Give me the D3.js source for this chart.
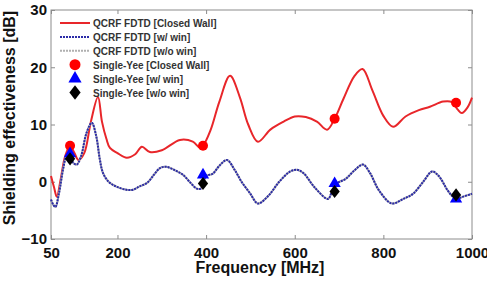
<!DOCTYPE html>
<html>
<head>
<meta charset="utf-8">
<script src="https://cdn.jsdelivr.net/npm/d3@7"></script>
<style>
  body { margin: 0; background: #fff; }
  text { font-family: "Liberation Sans", Arial, sans-serif; font-weight: bold; }
</style>
</head>
<body>
<div id="chart"></div>
<script>
// QCRF FDTD curves (frequency MHz, SE dB)
const closedFreq = [50, 57, 63, 72, 82, 93, 103, 112, 125, 140, 156, 165, 175, 183, 200, 221, 240, 255, 273, 300, 341, 370, 385, 393, 410, 430, 454, 476, 495, 517, 545, 575, 600, 625, 650, 673, 690, 710, 735, 753, 775, 800, 822, 850, 880, 905, 935, 955, 968, 977, 990, 1000]
const closedSE   = [1.0, -1.0, -2.6, 0.5, 4.5, 6.2, 5.0, 3.8, 5.0, 10.5, 14.8, 10.5, 7.5, 5.9, 5.0, 4.2, 4.8, 6.1, 5.2, 5.5, 7.3, 7.0, 6.0, 6.3, 9.0, 14.0, 18.5, 14.8, 10.0, 7.0, 9.1, 10.5, 11.4, 11.3, 10.5, 9.1, 11.0, 14.5, 18.5, 19.7, 16.0, 11.5, 9.6, 11.4, 12.5, 13.1, 14.0, 13.9, 12.6, 12.0, 13.0, 14.7]

const winFreq = [50, 55, 60, 68, 78, 86, 93, 100, 108, 118, 130, 142, 152, 160, 167, 180, 199, 220, 235, 250, 267, 282, 296, 310, 330, 348, 365, 379, 388, 400, 415, 430, 447, 465, 480, 499, 517, 540, 565, 590, 605, 620, 645, 675, 685, 695, 715, 735, 754, 770, 790, 819, 845, 867, 890, 910, 925, 945, 957, 968, 980, 1000]
const winSE   = [-3.1, -4.0, -4.4, -2.0, 2.5, 4.7, 4.6, 3.3, 3.0, 4.5, 8.5, 10.3, 8.0, 4.0, 1.6, 0.0, -0.9, -1.4, -1.4, -0.8, -0.2, 1.2, 2.4, 2.6, 2.0, 1.2, -0.2, -1.2, -1.2, 1.0, 1.4, 2.8, 3.8, 2.0, 0.0, -2.0, -3.8, -2.5, 0.0, 1.8, 2.1, 1.5, -1.0, -3.0, -1.5, -0.3, 0.5, 2.0, 3.0, 1.5, -1.5, -3.8, -3.0, -2.1, 0.0, 1.8, 1.0, -1.5, -2.6, -2.9, -2.6, -2.1]

// w/o win curve lies under the w/ win curve
const noWinFreq = winFreq
const noWinSE = winSE

// Single-Yee reference points
const yeeFreq = [93, 393, 690, 964]
const yeeClosed = [6.3, 6.3, 11.0, 13.8]
const yeeWin = [4.9, 1.2, -0.3, -3.0]
const yeeNoWin = [4.0, -0.3, -1.7, -2.3]

const xTicks = [50, 200, 400, 600, 800, 1000]
const yTicks = [-10, 0, 10, 20, 30]

const W = 487, H = 284
const m = {left: 51, right: 15, top: 10, bottom: 45}

const svg = d3.select("#chart").append("svg").attr("width", W).attr("height", H)

const x = d3.scaleLinear().domain([50, 1000]).range([m.left, W - m.right])
const y = d3.scaleLinear().domain([-10, 30]).range([H - m.bottom, m.top])

const colors = {red: "#e8262a", blue: "#2b2ba8", gray: "#b0b0b0", black: "#000"}

// frame
svg.append("rect")
    .attr("x", x(50)).attr("y", y(30))
    .attr("width", x(1000) - x(50)).attr("height", y(-10) - y(30))
    .attr("fill", "none").attr("stroke", "#8c8c8c").attr("stroke-width", 1)

const tickLen = 4
const bottomAxis = d3.axisBottom(x).tickValues(xTicks).tickFormat(d3.format("d"))
    .tickSizeInner(-tickLen).tickSizeOuter(0).tickPadding(8)
const gx = svg.append("g").attr("transform", `translate(0,${y(-10)})`).call(bottomAxis)
const topAxis = d3.axisTop(x).tickValues(xTicks).tickSizeInner(-tickLen).tickSizeOuter(0).tickFormat("")
const gxt = svg.append("g").attr("transform", `translate(0,${y(30)})`).call(topAxis)
const leftAxis = d3.axisLeft(y).tickValues(yTicks).tickSizeInner(-tickLen).tickSizeOuter(0).tickPadding(4)
const gy = svg.append("g").attr("transform", `translate(${x(50)},0)`).call(leftAxis)
const rightAxis = d3.axisRight(y).tickValues(yTicks).tickSizeInner(-tickLen).tickSizeOuter(0).tickFormat("")
const gyr = svg.append("g").attr("transform", `translate(${x(1000)},0)`).call(rightAxis)

for (const g of [gx, gxt, gy, gyr]) {
    g.select(".domain").remove()
    g.selectAll(".tick line").attr("stroke", "#8c8c8c")
}
for (const g of [gx, gy]) {
    g.selectAll(".tick text").attr("fill", "#111").style("font-size", "15px")
        .style("font-family", "Liberation Sans, Arial, sans-serif").style("font-weight", "bold")
}

svg.append("text")
    .attr("x", 260).attr("y", 273)
    .attr("text-anchor", "middle").attr("fill", "#111").style("font-size", "16px")
    .text("Frequency [MHz]")

svg.append("text")
    .attr("transform", "translate(15,118) rotate(-90)")
    .attr("text-anchor", "middle").attr("fill", "#111").style("font-size", "16px")
    .text("Shielding effectiveness [dB]")

// curves
const line = d3.line()
    .x(d => x(d[0]))
    .y(d => y(d[1]))
    .curve(d3.curveCatmullRom.alpha(0.5))

const zip = (a, b) => a.map((v, i) => [v, b[i]])

const plot = svg.append("g")

plot.append("path").datum(zip(closedFreq, closedSE))
    .attr("d", line).attr("fill", "none").attr("stroke", colors.red).attr("stroke-width", 2)
plot.append("path").datum(zip(noWinFreq, noWinSE))
    .attr("d", line).attr("fill", "none").attr("stroke", colors.gray).attr("stroke-width", 2)
plot.append("path").datum(zip(winFreq, winSE))
    .attr("d", line).attr("fill", "none").attr("stroke", colors.blue).attr("stroke-width", 2)
    .attr("stroke-dasharray", "2,1")

// markers
const sym = (type, size) => d3.symbol().type(type).size(size)
const diamond = "scale(1.35,1)"

plot.selectAll(".yc").data(zip(yeeFreq, yeeClosed)).join("circle")
    .attr("cx", d => x(d[0])).attr("cy", d => y(d[1])).attr("r", 5).attr("fill", "#ff0000")
plot.selectAll(".yw").data(zip(yeeFreq, yeeWin)).join("path")
    .attr("transform", d => `translate(${x(d[0])},${y(d[1])})`)
    .attr("d", sym(d3.symbolTriangle, 65)).attr("fill", "#0000ff")
plot.selectAll(".yn").data(zip(yeeFreq, yeeNoWin)).join("path")
    .attr("transform", d => `translate(${x(d[0])},${y(d[1])}) ${diamond}`)
    .attr("d", sym(d3.symbolDiamond, 50)).attr("fill", "#000")

// legend
const legend = [
    {label: "QCRF FDTD [Closed Wall]", kind: "line", color: colors.red},
    {label: "QCRF FDTD [w/ win]", kind: "dash", color: colors.blue},
    {label: "QCRF FDTD [w/o win]", kind: "gray", color: colors.gray},
    {label: "Single-Yee [Closed Wall]", kind: "circle", color: "#ff0000"},
    {label: "Single-Yee [w/ win]", kind: "triangle", color: "#0000ff"},
    {label: "Single-Yee [w/o win]", kind: "diamond", color: "#000"}
]
const lg = svg.append("g")
legend.forEach((d, i) => {
    const ly = 23 + i * 13.9
    const g = lg.append("g").attr("transform", `translate(0,${ly})`)
    if (d.kind === "line" || d.kind === "dash" || d.kind === "gray") {
        g.append("line").attr("x1", 60).attr("x2", 90).attr("y1", 0).attr("y2", 0)
            .attr("stroke", d.color).attr("stroke-width", 2)
            .attr("stroke-dasharray", d.kind === "line" ? null : "2,1")
    } else if (d.kind === "circle") {
        g.append("circle").attr("cx", 75).attr("cy", 0).attr("r", 5.5).attr("fill", d.color)
    } else if (d.kind === "triangle") {
        g.append("path").attr("transform", "translate(75,0)").attr("d", sym(d3.symbolTriangle, 75)).attr("fill", d.color)
    } else {
        g.append("path").attr("transform", `translate(75,0) ${diamond}`).attr("d", sym(d3.symbolDiamond, 60)).attr("fill", d.color)
    }
    g.append("text").attr("x", 93).attr("y", 4).attr("fill", "#333").style("font-size", "10px").text(d.label)
})
</script>
</body>
</html>
